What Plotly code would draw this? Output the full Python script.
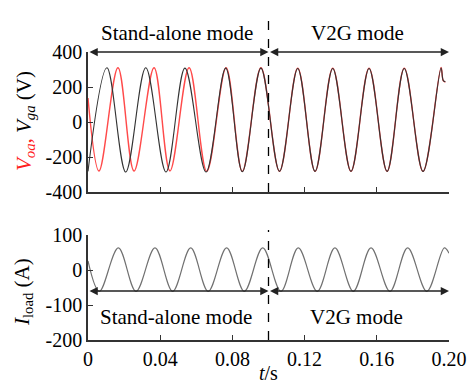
import plotly.graph_objects as go
from plotly.subplots import make_subplots

# ---- data ----
# V_oa (inverter output voltage, red)
t_voa = [0.0, 0.0061, 0.0166, 0.0255, 0.0366, 0.0454, 0.0560, 0.0658, 0.0765, 0.0855,
         0.0958, 0.1061, 0.1162, 0.1258, 0.1356, 0.1457, 0.1557, 0.1657, 0.1752, 0.1856,
         0.1956, 0.1968, 0.1980]
v_voa = [137, -280, 310, -280, 310, -280, 310, -282, 310, -282,
         310, -282, 308, -282, 308, -282, 308, -282, 308, -282,
         312, 236, 228]
# V_ga (grid voltage, black)
t_vga = [0.0, 0.0105, 0.0209, 0.0320, 0.0432, 0.0537, 0.0654, 0.0763, 0.0855,
         0.0958, 0.1061, 0.1162, 0.1258, 0.1356, 0.1457, 0.1557, 0.1657, 0.1752, 0.1856,
         0.1956, 0.1968, 0.1980]
v_vga = [-282, 310, -286, 310, -286, 308, -286, 308, -284,
         308, -282, 306, -282, 306, -282, 306, -282, 306, -282,
         308, 238, 230]
# I_load (load current, grey)
t_il = [0.0, 0.0063, 0.0168, 0.0266, 0.0371, 0.0469, 0.0569, 0.0666, 0.0768, 0.0866,
        0.0968, 0.1069, 0.1165, 0.1270, 0.1368, 0.1470, 0.1568, 0.1673, 0.1771, 0.1877,
        0.1974, 0.2000]
i_il = [26, -61, 63, -61, 63, -61, 63, -61, 63, -61,
        63, -61, 63, -61, 63, -61, 63, -61, 63, -61,
        63, 48]

x_ticks = [0, 0.04, 0.08, 0.12, 0.16, 0.20]
x_ticklabels = ["0", "0.04", "0.08", "0.12", "0.16", "0.20"]
v_ticks = [-400, -200, 0, 200, 400]
v_ticklabels = ["-400", "-200", "0", "200", "400"]
i_ticks = [-200, -100, 0, 100]
i_ticklabels = ["-200", "-100", "0", "100"]
t_switch = 0.1
mode_labels = ["Stand-alone mode", "V2G mode"]

FONT = "Liberation Serif"

fig = make_subplots(rows=2, cols=1, shared_xaxes=False, vertical_spacing=0.0)

fig.add_trace(go.Scatter(x=t_voa, y=v_voa, mode="lines",
                         line=dict(color="#ff4a4a", width=1.4, shape="spline", smoothing=1.0),
                         showlegend=False), row=1, col=1)
fig.add_trace(go.Scatter(x=t_vga, y=v_vga, mode="lines",
                         line=dict(color="#333333", width=1.1, shape="spline", smoothing=1.0),
                         showlegend=False), row=1, col=1)
fig.add_trace(go.Scatter(x=t_il, y=i_il, mode="lines",
                         line=dict(color="#707070", width=1.2, shape="spline", smoothing=1.0),
                         showlegend=False), row=2, col=1)

axis_common = dict(showline=True, linecolor="#333333", linewidth=1.5, mirror=False,
                   ticks="inside", ticklen=5, tickwidth=1.2, tickcolor="#333333",
                   showgrid=False, zeroline=False, automargin=False,
                   tickfont=dict(family=FONT, size=20, color="black"))

fig.update_xaxes(range=[0, 0.2], tickvals=x_ticks, ticktext=x_ticklabels, **axis_common)
fig.update_xaxes(showticklabels=False, row=1, col=1)
fig.update_yaxes(range=[-400, 400], tickvals=v_ticks, ticktext=v_ticklabels, row=1, col=1, **axis_common)
fig.update_yaxes(range=[-200, 100], tickvals=i_ticks, ticktext=i_ticklabels, row=2, col=1, **axis_common)

fig.update_layout(
    width=468, height=384, autosize=False,
    margin=dict(l=88, r=19, t=52, b=44, autoexpand=False),
    paper_bgcolor="white", plot_bgcolor="white",
    font=dict(family=FONT, size=20, color="black"),
    showlegend=False,
    xaxis=dict(domain=[0, 1]), yaxis=dict(domain=[1 - 140/288, 1]),
    xaxis2=dict(domain=[0, 1]), yaxis2=dict(domain=[0, 105/288]),
)

# dashed mode-switch lines
fig.add_shape(type="line", xref="x", yref="paper", x0=t_switch, x1=t_switch,
              y0=1 - 140/288, y1=1 + 40/288, line=dict(color="black", width=1.3, dash="dash"))
fig.add_shape(type="line", xref="x2", yref="paper", x0=t_switch, x1=t_switch,
              y0=0, y1=110/288, line=dict(color="black", width=1.3, dash="dash"))

def double_arrow(xr, yr, x0, x1, y):
    fig.add_annotation(xref=xr, yref=yr, axref=xr, ayref=yr, x=x1, y=y, ax=x0, ay=y,
                       text="", showarrow=True, arrowhead=2, arrowsize=1.1, arrowwidth=1.5,
                       arrowcolor="#222222", arrowside="end+start", standoff=0, startstandoff=0)

double_arrow("x", "y", 0, t_switch, 400)
double_arrow("x", "y", t_switch, 0.2, 400)
double_arrow("x2", "y2", 0, t_switch, -60)
double_arrow("x2", "y2", t_switch, 0.2, -60)

top_label_y = 1 + (52 - 33) / 288
fig.add_annotation(xref="x", yref="paper", x=0.0495, y=top_label_y, text=mode_labels[0], showarrow=False,
                   font=dict(family=FONT, size=21), yanchor="middle")
fig.add_annotation(xref="x", yref="paper", x=0.1495, y=top_label_y, text=mode_labels[1], showarrow=False,
                   font=dict(family=FONT, size=21), yanchor="middle")
fig.add_annotation(xref="x2", yref="y2", x=0.049, y=-135, text=mode_labels[0], showarrow=False,
                   font=dict(family=FONT, size=21))
fig.add_annotation(xref="x2", yref="y2", x=0.149, y=-135, text=mode_labels[1], showarrow=False,
                   font=dict(family=FONT, size=21))

# axis titles
fig.add_annotation(xref="paper", yref="paper", x=(25 - 88) / 361, y=(340 - 121) / 288,
                   text="<span style='color:#ff2020'><i>V</i><sub><i>oa</i></sub>,</span> "
                        "<i>V</i><sub><i>ga</i></sub> (V)",
                   textangle=-90, showarrow=False, xanchor="center", yanchor="middle",
                   font=dict(family=FONT, size=21))
fig.add_annotation(xref="paper", yref="paper", x=(23 - 88) / 361, y=(340 - 292) / 288,
                   text="<i>I</i><sub>load</sub> (A)",
                   textangle=-90, showarrow=False, xanchor="center", yanchor="middle",
                   font=dict(family=FONT, size=21))
fig.add_annotation(xref="paper", yref="paper", x=0.5, y=(340 - 373) / 288,
                   text="<i>t</i>/s", showarrow=False, xanchor="center", yanchor="middle",
                   font=dict(family=FONT, size=20))

# remove the default page margin so the 468x384 figure fills the window exactly
fig.write_html(
    "out.html",
    config={"displayModeBar": False, "responsive": False},
    post_script="document.body.style.margin='0';document.body.style.overflow='hidden';"
                "document.documentElement.style.overflow='hidden';",
)
